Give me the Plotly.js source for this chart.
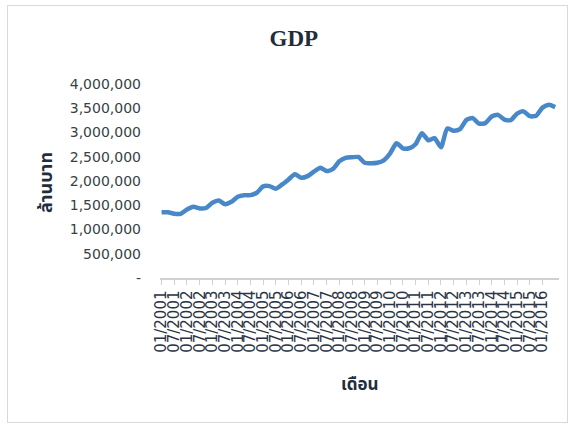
<!DOCTYPE html>
<html>
<head>
<meta charset="utf-8">
<script src="https://cdn.plot.ly/plotly-3.0.1.min.js"></script>
<style>
  html, body { margin: 0; padding: 0; background: #ffffff; }
  #frame { position: absolute; left: 7px; top: 5px; width: 561px; height: 418px; border: 1.5px solid #d9d9d9; box-sizing: border-box; }
  #chart { position: absolute; left: 0; top: 0; width: 575px; height: 428px; }
</style>
</head>
<body>
<div id="frame"></div>
<div id="chart"></div>
<script>
// Quarterly periods (MM/YYYY)
const quarters = [
  "01/2001","04/2001","07/2001","10/2001",
  "01/2002","04/2002","07/2002","10/2002",
  "01/2003","04/2003","07/2003","10/2003",
  "01/2004","04/2004","07/2004","10/2004",
  "01/2005","04/2005","07/2005","10/2005",
  "01/2006","04/2006","07/2006","10/2006",
  "01/2007","04/2007","07/2007","10/2007",
  "01/2008","04/2008","07/2008","10/2008",
  "01/2009","04/2009","07/2009","10/2009",
  "01/2010","04/2010","07/2010","10/2010",
  "01/2011","04/2011","07/2011","10/2011",
  "01/2012","04/2012","07/2012","10/2012",
  "01/2013","04/2013","07/2013","10/2013",
  "01/2014","04/2014","07/2014","10/2014",
  "01/2015","04/2015","07/2015","10/2015",
  "01/2016","04/2016","07/2016"
];

// GDP (ล้านบาท)
const gdp = [
  1356000,1356000,1323000,1323000,1412000,1468000,1433000,1443000,1551000,1598000,
  1522000,1571000,1675000,1708000,1708000,1758000,1888000,1894000,1841000,1930000,
  2033000,2137000,2068000,2101000,2193000,2275000,2205000,2251000,2406000,2478000,
  2489000,2495000,2375000,2364000,2375000,2427000,2571000,2778000,2675000,2675000,
  2758000,2986000,2841000,2882000,2696000,3083000,3037000,3068000,3255000,3296000,
  3182000,3193000,3331000,3364000,3265000,3255000,3389000,3435000,3337000,3344000,
  3513000,3571000,3524000
];

// X tick labels shown (every 6 months)
const xTickLabels = [
  "01/2001","07/2001","01/2002","07/2002","01/2003","07/2003","01/2004","07/2004",
  "01/2005","07/2005","01/2006","07/2006","01/2007","07/2007","01/2008","07/2008",
  "01/2009","07/2009","01/2010","07/2010","01/2011","07/2011","01/2012","07/2012",
  "01/2013","07/2013","01/2014","07/2014","01/2015","07/2015","01/2016"
];

// Y ticks
const yTickValues = [0,500000,1000000,1500000,2000000,2500000,3000000,3500000,4000000];
const yTickLabels = ["-","500,000","1,000,000","1,500,000","2,000,000","2,500,000","3,000,000","3,500,000","4,000,000"];

const thaiFont = '"Noto Sans Thai", "Noto Sans Thai UI", Tahoma, "Noto Sans", "DejaVu Sans", sans-serif';

const trace = {
  type: 'scatter',
  mode: 'lines',
  x: quarters,
  y: gdp,
  line: { color: '#4888c8', width: 4.5, shape: 'spline', smoothing: 0.6 },
  hoverinfo: 'x+y'
};

const layout = {
  width: 575,
  height: 428,
  margin: { l: 160, r: 16, t: 84, b: 150, pad: 0 },
  paper_bgcolor: 'rgba(0,0,0,0)',
  plot_bgcolor: 'rgba(0,0,0,0)',
  showlegend: false,
  title: {
    text: '<b>GDP</b>',
    font: { family: '"Liberation Serif", "Times New Roman", serif', size: 23, color: '#1f2d3d' },
    x: 0.511, xref: 'container', xanchor: 'center',
    y: 0.911, yref: 'container', yanchor: 'middle'
  },
  xaxis: {
    type: 'category',
    range: [-0.25, 62.6],
    tickmode: 'array',
    tickvals: xTickLabels,
    ticktext: xTickLabels,
    tickangle: -90,
    tickfont: { family: '"DejaVu Sans", sans-serif', size: 15, color: '#2b3445' },
    ticks: 'outside',
    ticklen: 5,
    tickcolor: '#d0d0d0',
    tickwidth: 1,
    showline: true,
    linecolor: '#d0d0d0',
    linewidth: 1.5,
    showgrid: false,
    zeroline: false,
    fixedrange: true
  },
  yaxis: {
    range: [0, 4000000],
    tickmode: 'array',
    tickvals: yTickValues,
    ticktext: yTickLabels,
    tickfont: { family: '"DejaVu Sans", sans-serif', size: 14, color: '#3a3f47' },
    ticks: '',
    ticklabelstandoff: 18,
    showline: false,
    showgrid: false,
    zeroline: false,
    fixedrange: true
  },
  annotations: [
    {
      text: '<b>เดือน</b>',
      xref: 'paper', yref: 'paper',
      x: 0.5, y: -0.55,
      xanchor: 'center', yanchor: 'middle',
      showarrow: false,
      font: { family: thaiFont, size: 17, color: '#1f2d3d' }
    },
    {
      text: '<b>ล้านบาท</b>',
      xref: 'paper', yref: 'paper',
      x: -0.284, y: 0.493,
      xanchor: 'center', yanchor: 'middle',
      textangle: -90,
      showarrow: false,
      font: { family: thaiFont, size: 18, color: '#1f2d3d' }
    }
  ]
};

Plotly.newPlot('chart', [trace], layout, { displayModeBar: false, staticPlot: true });
</script>
</body>
</html>
